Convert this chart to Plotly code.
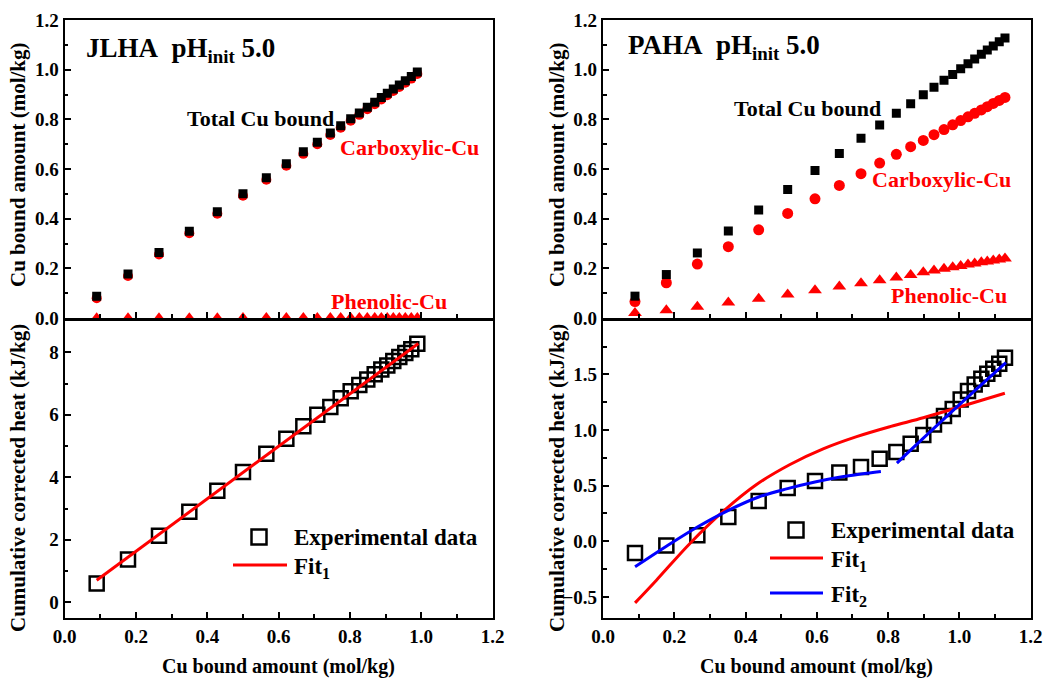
import plotly.graph_objects as go

W, H = 1043, 678

# ---------------- data ----------------
# JLHA
jl_x = [0.0897, 0.1776, 0.2645, 0.3496, 0.4281, 0.5001, 0.5656, 0.6217, 0.6694, 0.7086,
        0.7451, 0.7742, 0.8022, 0.8264, 0.8488, 0.8696, 0.8881, 0.9049, 0.9217, 0.9386,
        0.9554, 0.9722, 0.9891]
jl_total = [0.088, 0.177, 0.264, 0.349, 0.428, 0.500, 0.565, 0.621, 0.669, 0.708,
            0.745, 0.774, 0.802, 0.826, 0.849, 0.869, 0.888, 0.905, 0.922, 0.938,
            0.955, 0.972, 0.991]
jl_carb = [0.080, 0.169, 0.256, 0.341, 0.420, 0.492, 0.557, 0.613, 0.661, 0.700,
           0.737, 0.766, 0.794, 0.818, 0.841, 0.861, 0.880, 0.897, 0.914, 0.930,
           0.947, 0.964, 0.983]
jl_phen = [0.005, 0.005, 0.005, 0.005, 0.005, 0.006, 0.006, 0.006, 0.006, 0.006,
           0.006, 0.006, 0.006, 0.006, 0.006, 0.006, 0.006, 0.006, 0.006, 0.006,
           0.006, 0.006, 0.006]
jl_heat = [0.60, 1.37, 2.13, 2.90, 3.57, 4.17, 4.75, 5.23, 5.63, 6.00,
           6.25, 6.53, 6.75, 6.95, 7.13, 7.30, 7.45, 7.58, 7.72, 7.85,
           7.98, 8.10, 8.27]
jl_fit1_x = [0.0897, 0.992]
jl_fit1_y = [0.71, 8.28]

# PAHA
pa_x = [0.0898, 0.1778, 0.2648, 0.3518, 0.4370, 0.5184, 0.5951, 0.6634, 0.7242, 0.7766,
        0.8234, 0.8636, 0.8991, 0.9291, 0.9572, 0.9816, 1.0040, 1.0246, 1.0433, 1.0620,
        1.0787, 1.0955, 1.1123, 1.1284]
pa_total = [0.088, 0.175, 0.262, 0.350, 0.435, 0.517, 0.594, 0.662, 0.724, 0.777,
            0.824, 0.863, 0.899, 0.929, 0.957, 0.981, 1.004, 1.024, 1.043, 1.062,
            1.079, 1.095, 1.112, 1.128]
pa_carb = [0.066, 0.142, 0.217, 0.287, 0.355, 0.421, 0.480, 0.534, 0.581, 0.624,
           0.659, 0.690, 0.715, 0.738, 0.759, 0.778, 0.795, 0.810, 0.824, 0.838,
           0.851, 0.864, 0.876, 0.888]
pa_phen = [0.020, 0.031, 0.045, 0.062, 0.078, 0.095, 0.112, 0.127, 0.140, 0.152,
           0.163, 0.173, 0.184, 0.191, 0.198, 0.204, 0.209, 0.215, 0.219, 0.224,
           0.228, 0.232, 0.236, 0.240]
pa_heat = [-0.105, -0.039, 0.054, 0.218, 0.362, 0.479, 0.541, 0.617, 0.667, 0.742,
           0.802, 0.877, 0.955, 1.050, 1.125, 1.190, 1.275, 1.350, 1.410, 1.460,
           1.505, 1.550, 1.595, 1.650]
pa_fit1_x = [0.090, 0.150, 0.244, 0.338, 0.431, 0.525, 0.618, 0.712, 0.806, 0.899, 0.993, 1.128]
pa_fit1_y = [-0.554, -0.35, -0.02, 0.27, 0.51, 0.69, 0.83, 0.94, 1.03, 1.11, 1.20, 1.33]
pa_fit2_x = [0.090, 0.178, 0.265, 0.352, 0.437, 0.518, 0.595, 0.663, 0.724, 0.780,
             None, 0.825, 0.983, 1.131]
pa_fit2_y = [-0.23, -0.045, 0.128, 0.278, 0.398, 0.473, 0.533, 0.575, 0.605, 0.628,
             None, 0.703, 1.176, 1.605]

# ---------------- styling ----------------
FONT = "Liberation Serif"
RED = "#ff0000"


def px(x):
    return x / W


def py(y):
    return 1 - y / H


fig = go.Figure()

# top-left
fig.add_trace(go.Scatter(x=jl_x, y=jl_phen, mode="markers", xaxis="x", yaxis="y",
                         marker=dict(symbol="triangle-up", size=9, color=RED)))
fig.add_trace(go.Scatter(x=jl_x, y=jl_carb, mode="markers", xaxis="x", yaxis="y",
                         marker=dict(symbol="circle", size=10, color=RED)))
fig.add_trace(go.Scatter(x=jl_x, y=jl_total, mode="markers", xaxis="x", yaxis="y",
                         marker=dict(symbol="square", size=9, color="black")))
# bottom-left
fig.add_trace(go.Scatter(x=jl_x, y=jl_heat, mode="markers", xaxis="x2", yaxis="y2",
                         marker=dict(symbol="square-open", size=14, color="black",
                                     line=dict(width=2.5, color="black"))))
fig.add_trace(go.Scatter(x=jl_fit1_x, y=jl_fit1_y, mode="lines", xaxis="x2", yaxis="y2",
                         line=dict(color=RED, width=3)))
# top-right
fig.add_trace(go.Scatter(x=pa_x, y=pa_phen, mode="markers", xaxis="x3", yaxis="y3",
                         marker=dict(symbol="triangle-up", size=12, color=RED)))
fig.add_trace(go.Scatter(x=pa_x, y=pa_carb, mode="markers", xaxis="x3", yaxis="y3",
                         marker=dict(symbol="circle", size=11, color=RED)))
fig.add_trace(go.Scatter(x=pa_x, y=pa_total, mode="markers", xaxis="x3", yaxis="y3",
                         marker=dict(symbol="square", size=9, color="black")))
# bottom-right
fig.add_trace(go.Scatter(x=pa_x, y=pa_heat, mode="markers", xaxis="x4", yaxis="y4",
                         marker=dict(symbol="square-open", size=14, color="black",
                                     line=dict(width=2.5, color="black"))))
fig.add_trace(go.Scatter(x=pa_fit1_x, y=pa_fit1_y, mode="lines", xaxis="x4", yaxis="y4",
                         line=dict(color=RED, width=3, shape="spline")))
fig.add_trace(go.Scatter(x=pa_fit2_x, y=pa_fit2_y, mode="lines", xaxis="x4", yaxis="y4",
                         line=dict(color="#0000ff", width=3, shape="spline"),
                         connectgaps=False))

LX = [px(64.7), px(492.5)]
RX = [px(603), px(1030.5)]
TY = [py(318), py(20)]
BY = [py(618), py(321)]

common = dict(showline=True, linecolor="black", linewidth=2.2, mirror=True,
              ticks="inside", ticklen=6, tickwidth=2, tickcolor="black",
              showgrid=False, zeroline=False,
              tickfont=dict(family=FONT, size=19, color="black", weight="bold"))


def xax(domain, anchor, labels):
    d = dict(common)
    d.update(domain=domain, anchor=anchor, range=[0, 1.2], dtick=0.2, tick0=0,
             tickformat=".1f", showticklabels=labels,
             minor=dict(dtick=0.1, ticks="inside", ticklen=3.5, tickwidth=2,
                        tickcolor="black", showgrid=False))
    return d


def yax(domain, anchor, rng, dtick, mdtick, fmt):
    d = dict(common)
    d.update(domain=domain, anchor=anchor, range=rng, dtick=dtick, tick0=0,
             tickformat=fmt,
             minor=dict(dtick=mdtick, ticks="inside", ticklen=3.5, tickwidth=2,
                        tickcolor="black", showgrid=False))
    return d


fig.update_layout(
    width=W, height=H, margin=dict(l=0, r=0, t=0, b=0, autoexpand=False),
    paper_bgcolor="white", plot_bgcolor="white", showlegend=False,
    xaxis=xax(LX, "y", False),
    yaxis=yax(TY, "x", [0, 1.2], 0.2, 0.1, ".1f"),
    xaxis2=xax(LX, "y2", True),
    yaxis2=yax(BY, "x2", [-0.5, 9], 2, 1, "d"),
    xaxis3=xax(RX, "y3", False),
    yaxis3=yax(TY, "x3", [0, 1.2], 0.2, 0.1, ".1f"),
    xaxis4=xax(RX, "y4", True),
    yaxis4=yax(BY, "x4", [-0.69, 1.98], 0.5, 0.25, ".1f"),
)


def txt(x, y, s, size, color="black", xanchor="left", angle=0):
    return dict(x=px(x), y=py(y), xref="paper", yref="paper", text=s, showarrow=False,
                xanchor=xanchor, yanchor="middle", textangle=angle,
                font=dict(family=FONT, size=size, color=color, weight="bold"))


ann = [
    txt(84, 50, "JLHA\u00a0\u00a0pH<sub>init</sub> 5.0", 27),
    txt(626, 47, "PAHA\u00a0\u00a0pH<sub>init</sub> 5.0", 27),
    txt(185, 118, "Total Cu bound", 22),
    txt(338, 148, "Carboxylic-Cu", 22, RED),
    txt(329, 302, "Phenolic-Cu", 22, RED),
    txt(732, 108, "Total Cu bound", 22),
    txt(870, 180, "Carboxylic-Cu", 22, RED),
    txt(889, 296, "Phenolic-Cu", 22, RED),
    # legends
    txt(292, 537, "Experimental data", 23),
    txt(292, 568, "Fit<sub>1</sub>", 23),
    txt(829, 530, "Experimental data", 23),
    txt(829, 561, "Fit<sub>1</sub>", 23),
    txt(829, 596, "Fit<sub>2</sub>", 23),
    # axis titles
    txt(18, 165, "Cu bound amount (mol/kg)", 21, xanchor="center", angle=-90),
    txt(18, 478, "Cumulative corrected heat (kJ/kg)", 21, xanchor="center", angle=-90),
    txt(557, 165, "Cu bound amount (mol/kg)", 21, xanchor="center", angle=-90),
    txt(557, 478, "Cumulative corrected heat (kJ/kg)", 21, xanchor="center", angle=-90),
    txt(278, 666, "Cu bound amount (mol/kg)", 20, xanchor="center"),
    txt(816, 666, "Cu bound amount (mol/kg)", 20, xanchor="center"),
]
fig.update_layout(annotations=ann)


def rect(cx, cy, s):
    return dict(type="rect", xref="paper", yref="paper",
                x0=px(cx - s / 2), x1=px(cx + s / 2), y0=py(cy + s / 2), y1=py(cy - s / 2),
                line=dict(color="black", width=2.5), fillcolor="rgba(0,0,0,0)")


def seg(x0, x1, y, color):
    return dict(type="line", xref="paper", yref="paper", x0=px(x0), x1=px(x1),
                y0=py(y), y1=py(y), line=dict(color=color, width=3))


fig.update_layout(shapes=[
    rect(259, 537, 15),
    seg(233, 287, 565, RED),
    rect(796, 530, 15),
    seg(770, 823, 558, RED),
    seg(770, 823, 593, "#0000ff"),
])

fig.write_html("out.html", config={"displayModeBar": False},
               post_script="document.body.style.margin='0';document.body.style.padding='0';")
